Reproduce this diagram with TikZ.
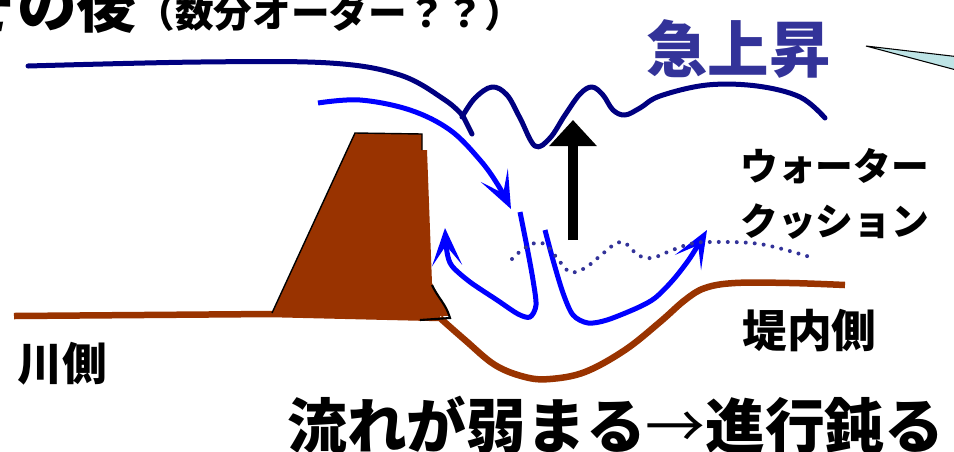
\documentclass[tikz,border=0pt]{standalone}
\usepackage{fontspec}
\newfontfamily\jp{Noto Sans CJK JP}[BoldFont={Noto Sans CJK JP Black}]
\usetikzlibrary{arrows.meta}
\definecolor{dambrown}{RGB}{153,51,0}
\definecolor{wavenavy}{RGB}{0,0,128}
\definecolor{labelblue}{RGB}{51,51,153}
\definecolor{calloutcyan}{RGB}{190,228,230}

\begin{document}
\begin{tikzpicture}[
  x=0.02cm, y=-0.02cm,
  surface/.style={wavenavy, line width=0.1cm, line cap=round, line join=round},
  flow/.style={blue, line width=0.1cm, line join=round,
               -{Stealth[length=0.75cm, width=0.6cm, inset=0.4cm]}},
  ground/.style={dambrown, line width=0.13cm, line join=round},
  lbl/.style={inner sep=0pt, anchor=base west, font=\jp\bfseries}
]
\useasboundingbox (0,0) rectangle (954,451);
\clip (0,0) rectangle (954,451);
% heading and callout
\node[lbl] (title) at (-43,27) {{\fontsize{34pt}{34pt}\selectfont その後}{\fontsize{22pt}{23pt}\selectfont （数分オーダー？？）}};
\node[lbl, labelblue, font=\jp\bfseries\fontsize{35pt}{35pt}\selectfont] (rise) at (646,72) {急上昇};
\filldraw[fill=calloutcyan, draw=black, line width=0.6pt] (866,46) -- (960,57) -- (960,71) -- cycle;
% water surface
\draw[surface] plot[smooth, tension=0.6] coordinates {(28,66) (200,62) (330,63) (400,75) (445,100) (463,116)} -- (472,134);
\draw[surface] plot[smooth, tension=0.6] coordinates {(462,117) (475,98) (492,87) (507,95) (520,118) (535,146)
  (550,138) (565,115) (580,94) (592,87) (603,95) (613,110) (625,115) (640,108) (660,96)
  (707,85) (757,86) (800,97) (825,118)};
% ground and levee
\draw[ground] (14,316) -- (272,314) -- (440,318) plot[smooth, tension=0.6] coordinates {(440,318) (465,340) (495,365)
  (525,377) (550,379) (585,372) (625,350) (660,322) (685,300) (705,288) (735,283) (790,283) (845,285)};
\fill[dambrown] (272,314) -- (355,133) -- (422,134) -- (422,150) -- (427,150) -- (432,283)
  .. controls (438,298) and (446,304) .. (450,316) -- cycle;
\draw[line width=0.8pt] (272,313) -- (355,133) -- (422,134) -- (422,150);
\draw[line width=1.2pt] (432,285) .. controls (438,298) and (446,304) .. (450,318) -- (420,320);
% overflow currents
\draw[flow] plot[smooth, tension=0.6] coordinates {(318,103) (360,100) (410,110) (450,130) (480,160) (498,185) (511,209)};
\draw[flow] plot[smooth, tension=0.5] coordinates {(520,212) (527,247) (533,280) (536,305) (530,317) (518,314)
  (497,300) (470,282) (452,266) (447,252) (445,228)};
\draw[flow] plot[smooth, tension=0.5] coordinates {(545,230) (553,260) (563,293) (573,315) (588,323) (607,320)
  (637,308) (655,298) (673,280) (690,258) (707,230)};
% water cushion
\draw[labelblue, line width=0.08cm, line cap=round, dash pattern=on 0pt off 0.18cm]
  plot[smooth, tension=0.6] coordinates {(512,259) (522,250) (535,243) (546,245) (557,258) (570,272)
  (585,268) (600,256) (615,244) (625,243) (638,255) (652,258) (670,251) (690,244) (710,242)
  (760,244) (810,257)};
\coordinate (lift-from) at (573,240);
\coordinate (lift-to) at (573,120);
\draw[line width=0.2cm, -{Triangle[length=0.52cm, width=0.92cm]}] (lift-from) -- (lift-to);
% labels
\node[lbl, font=\jp\bfseries\fontsize{21.5pt}{22pt}\selectfont] (cushion1) at (740,180) {ウォーター};
\node[lbl, font=\jp\bfseries\fontsize{21.5pt}{22pt}\selectfont] (cushion2) at (740,235) {クッション};
\node[lbl, font=\jp\bfseries\fontsize{25.5pt}{26pt}\selectfont] (landside) at (742,347) {堤内側};
\node[lbl, font=\jp\bfseries\fontsize{25.5pt}{26pt}\selectfont] (riverside) at (17,380) {川側};
\node[lbl, font=\jp\bfseries\fontsize{34pt}{34pt}\selectfont] (result) at (287,448)
  {流れが弱まる{\mdseries →}進行鈍る};
\end{tikzpicture}
\end{document}
